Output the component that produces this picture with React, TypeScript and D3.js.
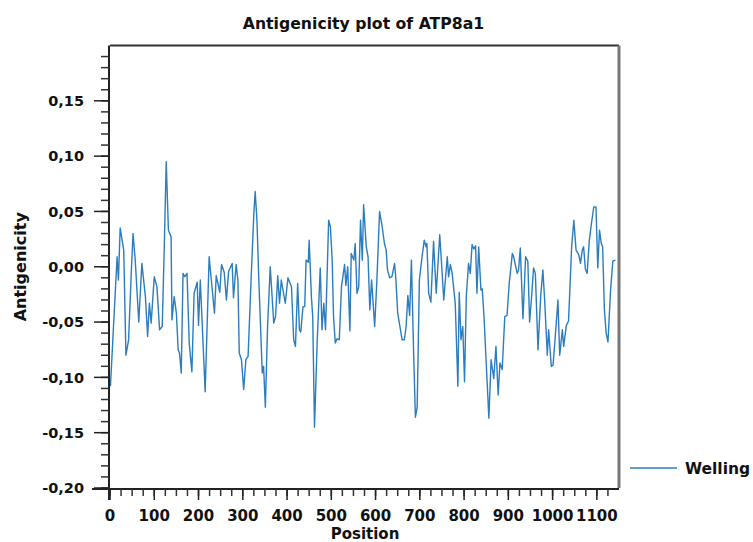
import React from "react";
import * as d3 from "d3";

const title = "Antigenicity plot of ATP8a1";
const xLabel = "Position";
const yLabel = "Antigenicity";
const seriesName = "Welling";

const positions = [
  1, 16, 19, 23, 31, 36, 42, 48, 52, 57, 65, 72, 80, 85, 89, 93, 100, 106, 112, 118,
  123, 127, 132, 138, 140, 145, 150, 154, 157, 161, 165, 169, 174, 179, 185, 190, 197, 200, 204, 215,
  224, 236, 240, 248, 252, 258, 263, 268, 276, 279, 285, 289, 292, 297, 302, 307, 312, 319, 325, 328,
  332, 336, 344, 347, 351, 356, 362, 370, 374, 379, 383, 387, 396, 402, 410, 415, 419, 424, 428, 431,
  436, 440, 443, 448, 450, 455, 458, 462, 468, 475, 479, 483, 487, 494, 498, 502, 505, 509, 513, 518,
  523, 530, 533, 537, 542, 545, 551, 554, 558, 562, 566, 570, 573, 579, 583, 587, 591, 598, 603, 609,
  615, 620, 624, 627, 632, 637, 643, 646, 650, 655, 660, 665, 669, 673, 677, 681, 686, 690, 694, 699,
  705, 710, 714, 716, 720, 725, 731, 737, 745, 750, 754, 762, 765, 769, 773, 780, 786, 789, 793, 797,
  801, 805, 810, 814, 818, 822, 826, 829, 833, 838, 841, 845, 850, 856, 861, 867, 872, 877, 881, 886,
  892, 897, 902, 909, 912, 920, 923, 927, 933, 939, 944, 948, 952, 957, 961, 967, 973, 978, 982, 988,
  991, 997, 1001, 1006, 1012, 1016, 1022, 1025, 1031, 1036, 1043, 1048, 1053, 1059, 1063, 1067, 1070, 1074, 1078, 1083,
  1088, 1093, 1098, 1102, 1106, 1110, 1113, 1117, 1121, 1125, 1131, 1136, 1142,
];

const values = [
  -0.108, 0.009, -0.012, 0.035, 0.015, -0.08, -0.066, -0.006, 0.03, 0.006, -0.05, 0.003, -0.027, -0.063, -0.033, -0.051, -0.009, -0.018, -0.057, -0.054,
  0.024, 0.095, 0.033, 0.027, -0.048, -0.027, -0.042, -0.075, -0.078, -0.096, -0.006, -0.009, -0.006, -0.069, -0.095, -0.024, -0.014, -0.053, -0.012, -0.113,
  0.009, -0.042, -0.008, -0.023, 0.002, -0.005, -0.03, -0.004, 0.003, -0.028, 0.002, -0.012, -0.078, -0.084, -0.111, -0.084, -0.081, -0.009, 0.048, 0.068,
  0.042, -0.009, -0.096, -0.09, -0.127, -0.054, 0.0, -0.051, -0.045, -0.008, -0.033, -0.012, -0.033, -0.01, -0.018, -0.066, -0.072, -0.015, -0.057, -0.059,
  -0.036, -0.036, 0.006, 0.004, 0.024, -0.027, -0.045, -0.145, -0.069, -0.001, -0.057, -0.033, -0.057, 0.042, 0.036, 0.006, -0.045, -0.069, -0.065, -0.066,
  -0.018, 0.002, -0.017, 0.0, -0.058, 0.012, 0.006, 0.021, -0.024, -0.018, 0.042, 0.006, 0.056, 0.018, 0.009, -0.039, -0.012, -0.054, -0.012, 0.05,
  0.036, 0.021, 0.015, -0.003, -0.01, -0.009, 0.003, -0.012, -0.042, -0.054, -0.066, -0.066, -0.054, -0.026, -0.044, 0.006, -0.078, -0.136, -0.127, -0.012,
  0.009, 0.024, 0.018, 0.021, -0.024, -0.032, 0.023, -0.024, 0.029, -0.003, -0.03, 0.009, -0.009, 0.002, -0.006, -0.033, -0.108, -0.023, -0.066, -0.054,
  -0.104, -0.027, 0.003, -0.006, 0.02, 0.016, 0.019, -0.024, 0.018, -0.021, -0.02, -0.045, -0.087, -0.137, -0.084, -0.101, -0.072, -0.116, -0.087, -0.093,
  -0.045, -0.044, -0.015, 0.012, 0.009, -0.006, -0.003, 0.017, -0.047, 0.009, 0.005, -0.05, -0.03, -0.001, -0.006, -0.075, -0.027, -0.003, -0.03, -0.08,
  -0.057, -0.09, -0.089, -0.063, -0.03, -0.08, -0.057, -0.072, -0.053, -0.049, 0.018, 0.042, 0.015, 0.011, 0.003, 0.015, 0.018, -0.002, -0.006, 0.024,
  0.04, 0.054, 0.054, -0.001, 0.033, 0.021, 0.018, -0.039, -0.06, -0.068, -0.021, 0.005, 0.006,
];

const yMajorTicks = [-0.2, -0.15, -0.1, -0.05, 0.0, 0.05, 0.1, 0.15];
const xMajorTicks = [0, 100, 200, 300, 400, 500, 600, 700, 800, 900, 1000, 1100];

const W = 753;
const H = 542;
const left = 110;
const right = 619;
const top = 45.5;
const bottom = 488;
const FONT = "DejaVu Sans, Verdana, sans-serif";

export default function App() {
  const x = d3.scaleLinear().domain([0, 1150]).range([left, right]);
  const y = d3.scaleLinear().domain([-0.2, 0.2]).range([bottom, top]);
  const data = positions.map((p, i) => [p, values[i]] as [number, number]);
  const line = d3
    .line<[number, number]>()
    .x((d) => x(d[0]))
    .y((d) => y(d[1]));

  const yMinor = d3.range(-20, 20).map((i) => i / 100);
  const xMinor = d3.range(0, 1150, 25);
  const fmt = (v: number) => d3.format(".2f")(v).replace(".", ",").replace("−", "-");
  const lineColor = "#2a7dbf";

  return (
    <svg
      width={W}
      height={H}
      style={{ position: "absolute", left: 0, top: 0, background: "#fff" }}
    >
      <text
        x={363.5}
        y={29}
        textAnchor="middle"
        fontFamily={FONT}
        fontWeight="bold"
        fontSize={15.7}
        fill="#111"
      >
        {title}
      </text>

      {/* frame */}
      <line x1={left} x2={right} y1={top} y2={top} stroke="#333" strokeWidth={2} />
      <line x1={right} x2={right} y1={top} y2={bottom} stroke="#777" strokeWidth={3} />

      {/* data line */}
      <path d={line(data) || ""} fill="none" stroke={lineColor} strokeWidth={1.4} strokeLinejoin="round" />

      {/* y axis */}
      <line x1={left - 1} x2={left - 1} y1={top} y2={bottom + 12} stroke="#222" strokeWidth={2} />
      {yMinor.map((v) => (
        <line key={"ym" + v} x1={left - 9} x2={left - 1} y1={y(v)} y2={y(v)} stroke="#333" strokeWidth={1.5} />
      ))}
      {yMajorTicks.map((v) => (
        <g key={"yM" + v}>
          <line x1={left - 16} x2={left - 1} y1={y(v)} y2={y(v)} stroke="#222" strokeWidth={1.5} />
          <text
            x={84}
            y={y(v)}
            dy="0.36em"
            textAnchor="end"
            fontFamily={FONT}
            fontWeight="bold"
            fontSize={14.5}
            fill="#111"
          >
            {fmt(v)}
          </text>
        </g>
      ))}

      {/* x axis */}
      <line x1={left - 18} x2={right} y1={bottom + 1} y2={bottom + 1} stroke="#222" strokeWidth={2} />
      {xMinor.map((v) => (
        <line key={"xm" + v} x1={x(v)} x2={x(v)} y1={bottom + 1} y2={bottom + 8} stroke="#333" strokeWidth={1.5} />
      ))}
      {xMajorTicks.map((v) => (
        <g key={"xM" + v}>
          <line x1={x(v)} x2={x(v)} y1={bottom + 1} y2={bottom + 12} stroke="#222" strokeWidth={1.5} />
          <text
            x={x(v)}
            y={520.5}
            textAnchor="middle"
            fontFamily={FONT}
            fontWeight="bold"
            fontSize={15}
            fill="#111"
          >
            {v}
          </text>
        </g>
      ))}

      <text
        x={365}
        y={538.5}
        textAnchor="middle"
        fontFamily={FONT}
        fontWeight="bold"
        fontSize={15}
        fill="#111"
      >
        {xLabel}
      </text>
      <text
        transform={`translate(26, ${y(0)}) rotate(-90)`}
        textAnchor="middle"
        fontFamily={FONT}
        fontWeight="bold"
        fontSize={16}
        fill="#111"
      >
        {yLabel}
      </text>

      {/* legend */}
      <line x1={630} x2={677} y1={468} y2={468} stroke={lineColor} strokeWidth={1.3} />
      <text
        x={685}
        y={474}
        fontFamily={FONT}
        fontWeight="bold"
        fontSize={15.5}
        fill="#111"
      >
        {seriesName}
      </text>
    </svg>
  );
}
